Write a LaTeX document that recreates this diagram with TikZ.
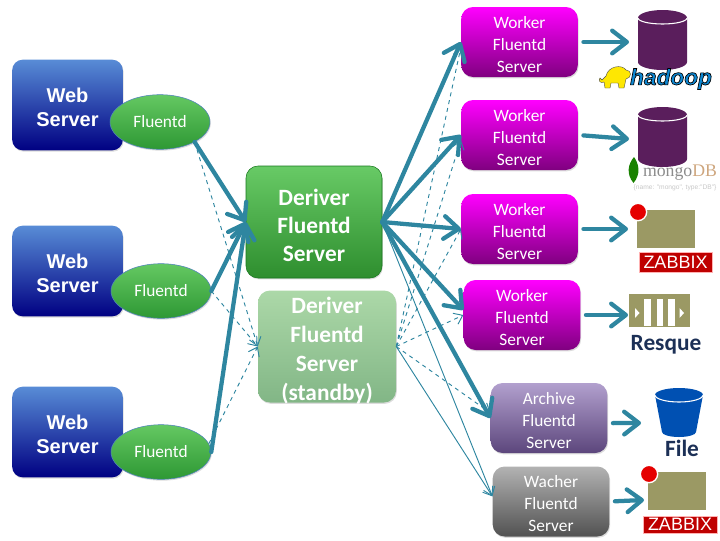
\documentclass[tikz,border=0pt]{standalone}
\usepackage{fontspec}
\setmainfont{Carlito}
\newfontfamily\arialfont{Liberation Sans}
\newfontfamily\timesfont{Liberation Serif}
\usetikzlibrary{arrows.meta,shadows,shapes.geometric}
\definecolor{flowcol}{HTML}{2E86A0}
\definecolor{olivecol}{HTML}{9B9964}
\definecolor{navycol}{HTML}{1C3056}
\definecolor{dbcol}{HTML}{5A1E5C}
\tikzset{
  softshadow/.style={drop shadow={opacity=.28,shadow xshift=.6pt,shadow yshift=-1pt}},
  webbox/.style={rectangle,rounded corners=8pt,shade,top color={rgb,255:red,88;green,140;blue,214},bottom color={rgb,255:red,0;green,0;blue,130},minimum width=83pt,minimum height=68pt,
    text=white,align=center,font=\arialfont\bfseries\fontsize{15}{18}\selectfont,text height=31.7pt,softshadow},
  fluent/.style={ellipse,draw={rgb,255:red,79;green,129;blue,189},shade,top color={rgb,255:red,100;green,200;blue,98},bottom color={rgb,255:red,46;green,152;blue,52},minimum width=75pt,minimum height=41pt,inner sep=0pt,
    text=white,font=\fontsize{13}{16}\selectfont,softshadow},
  deriver/.style={rectangle,rounded corners=9pt,minimum width=102pt,minimum height=84pt,inner sep=0pt,
    text=white,align=center,font=\bfseries\fontsize{17.5}{21}\selectfont,text height=59.5pt,softshadow},
  worker/.style={rectangle,rounded corners=9pt,minimum width=87.5pt,minimum height=52.5pt,inner sep=0pt,
    text=white,align=center,font=\fontsize{13}{16.5}\selectfont,text height=45.15pt,softshadow},
  bigflow/.style={draw=flowcol,line width=3.2pt,line cap=round,-{Straight Barb[length=11pt,width=17pt,round]}},
  iconflow/.style={bigflow,shorten <=4pt},
  dashflow/.style={draw=flowcol,line width=.7pt,dashed,-{Straight Barb[length=6pt,width=9pt]}},
  thinflow/.style={draw=flowcol,line width=.7pt,-{Straight Barb[length=6pt,width=9pt]}},
  zabbix/.style={rectangle,fill=red!75!black,draw=red!30!white,line width=.4pt,text=white,inner sep=0pt,font=\arialfont\fontsize{13.5}{14}\selectfont},
  logotext/.style={text=navycol,font=\bfseries\fontsize{17.5}{20}\selectfont,inner sep=0pt},
}
\begin{document}
\begin{tikzpicture}[x=.75pt,y=-.75pt]
\useasboundingbox (0,0) rectangle (720,540);
% web servers
\foreach \n/\ypos in {1/105,2/271,3/432}
\node[webbox] (web\n) at (67.5,\ypos){Web\\Server};
\node[fluent] (fl1) at (160,122){Fluentd};
\node[fluent] (fl2) at (161,291){Fluentd};
\node[fluent] (fl3) at (161,452){Fluentd};
% deriver
\node[deriver,shade,top color={rgb,255:red,104;green,202;blue,102},bottom color={rgb,255:red,46;green,142;blue,46},draw={rgb,255:red,24;green,120;blue,30}] (dv) at (314,222){Deriver\\Fluentd\\Server};
\node[deriver,shade,top color={rgb,255:red,172;green,216;blue,168},bottom color={rgb,255:red,130;green,182;blue,134},minimum width=103.5pt,font=\bfseries\fontsize{17.5}{21.8}\selectfont,text height=83.6pt,inner ysep=-3pt] (sb) at (327,346.5){Deriver\\Fluentd\\Server\\(standby)};
% workers
\node[worker,shade,top color=magenta,bottom color=magenta!50!black] (w1) at (519.5,42){Worker\\Fluentd\\Server};
\node[worker,shade,top color=magenta,bottom color=magenta!50!black] (w2) at (519.5,135){Worker\\Fluentd\\Server};
\node[worker,shade,top color=magenta,bottom color=magenta!50!black] (w3) at (519.5,229){Worker\\Fluentd\\Server};
\node[worker,shade,top color=magenta,bottom color=magenta!50!black] (w4) at (522,315){Worker\\Fluentd\\Server};
\node[worker,shade,top color={rgb,255:red,178;green,160;blue,206},bottom color={rgb,255:red,92;green,70;blue,124}] (ar) at (549,418){Archive\\Fluentd\\Server};
\node[worker,shade,top color=black!30,bottom color=black!68] (wc) at (551,501.5){Wacher\\Fluentd\\Server};
% icons: cylinders
\foreach \ytop/\n in {10/db1,107/db2}{
\fill[dbcol] (638,\ytop+8) arc[start angle=180,end angle=360,x radius=24.5,y radius=8] -- (687,\ytop+52) arc[start angle=0,end angle=180,x radius=24.5,y radius=8] -- cycle;
\draw[white,line width=.8pt] (638,\ytop+8) arc[start angle=180,end angle=0,x radius=24.5,y radius=6];
\coordinate (\n) at (629,\ytop+32);
}
% hadoop
\filldraw[fill=yellow!90!orange,draw=black!70,line width=.3pt] (606,76) .. controls (608,66) and (622,64) .. (626,70) .. controls (632,70) and (632,78) .. (626,79) -- (624,88) -- (619,88) -- (618,83) -- (611,83) -- (610,88) -- (605,88) -- (604,82) .. controls (600,84) and (598,80) .. (600,78) -- (602,80) -- cycle;
\node[inner sep=0pt,text=cyan!70!blue,font=\arialfont\bfseries\itshape\fontsize{17}{17}\selectfont] (hd) at (671,79){\special{pdf:code 2 Tr 0.5 w 0 0 0 RG}hadoop\special{pdf:code 0 Tr}};
% mongodb
\fill[green!45!black!90!yellow] (634,157) .. controls (628,164) and (626,174) .. (633.5,183) .. controls (641,174) and (639,164) .. (634,157) -- cycle;
\node[inner sep=0pt,font=\timesfont\fontsize{13.3}{14}\selectfont] (mg) at (680,172.5){\textcolor{black!45}{mongo}\textcolor{orange!45!gray!70}{DB}};
\node[inner sep=0pt,text=black!22,font=\arialfont\fontsize{5}{6}\selectfont] (mgsub) at (675,188){\{name: "mongo", type:"DB"\}};
% zabbix
\foreach \xl/\ytop/\n/\xtip/\ytip in {637/210/zb1/628/229,648/472/zb2/644/500}{
\fill[olivecol] (\xl,\ytop) rectangle (\xl+58,\ytop+37.5);
\fill[red!90!black,draw=white,line width=1pt] (\xl+1,\ytop+2) circle (6.5pt);
\coordinate (\n) at (\xtip,\ytip);
}
\node[zabbix,minimum width=54.5pt,minimum height=15pt] (zt1) at (675.5,262.5){ZABBIX};
\node[zabbix,minimum width=55.5pt,minimum height=13pt] (zt2) at (680,524.5){ZABBIX};
% resque
\fill[olivecol] (629,294) rectangle (690,327);
\foreach \xl in {644,656.5,668}
\fill[white] (\xl,299) rectangle (\xl+6.5,326);
\fill[white] (635,308) -- (639.5,313) -- (635,318) -- cycle;
\fill[white] (679.5,308) -- (684,313) -- (679.5,318) -- cycle;
\coordinate (rq) at (628,315);
\node[logotext] (rqtext) at (666,344.5){Resque};
% file
\fill[blue!55!cyan!70!black] (655,395) arc[start angle=180,end angle=360,x radius=24,y radius=7] -- (696,432) arc[start angle=0,end angle=180,x radius=17,y radius=5] -- cycle;
\draw[white,line width=.8pt] (655,395) arc[start angle=180,end angle=0,x radius=24,y radius=7];
\coordinate (bk) at (641,423);
\node[logotext] (fl) at (682,448){File};
% flows
\foreach \from/\to in {fl1.-30/dv.west,fl2.east/dv.west,fl3.east/dv.west,
dv.east/w1.west,dv.east/w2.west,dv.east/w3.west,dv.east/w4.175,dv.east/ar.west}
\draw[bigflow] (\from) -- (\to);
\foreach \from/\to in {fl1.-30/sb.west,fl2.east/sb.west,fl3.10/sb.west,
sb.east/w1.-175,sb.east/w2.-175,sb.east/w3.west,sb.east/w4.west,sb.east/ar.175}
\draw[dashflow] (\from) -- (\to);
\foreach \from/\to in {dv.east/wc.175,sb.east/wc.175}
\draw[thinflow] (\from) -- (\to);
\foreach \from/\to in {w1.east/db1,w2.east/db2,w3.east/zb1,w4.east/rq,ar.-5/bk,wc.east/zb2}
\draw[iconflow] (\from) -- (\to);
\end{tikzpicture}
\end{document}
